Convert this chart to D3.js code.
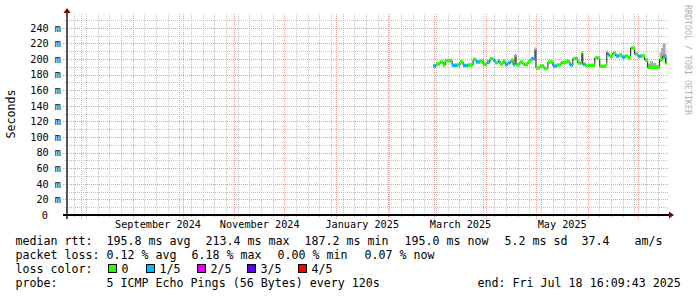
<!DOCTYPE html>
<html>
<head>
<meta charset="utf-8">
<script src="https://cdn.jsdelivr.net/npm/d3@7"></script>
<style>
body { margin: 0; background: #fff; }
svg text { font-family: "DejaVu Sans Mono", monospace; fill: #000; }
</style>
</head>
<body>
<svg id="chart" width="697" height="297"></svg>
<script>
// median rtt, one value per plateau (start of plateau)
var segStart = ["2025-02-28 10","2025-03-02 05","2025-03-04 14","2025-03-06 09","2025-03-07 14","2025-03-11 18","2025-03-14 18","2025-03-16 13","2025-03-18 08","2025-03-21 08",
  "2025-03-24 08","2025-03-26 03","2025-03-28 13","2025-03-30 08","2025-04-01 17","2025-04-03 12","2025-04-05 07","2025-04-06 12","2025-04-08 07","2025-04-09 12",
  "2025-04-11 07","2025-04-12 12","2025-04-14 07","2025-04-16 02","2025-04-17 07","2025-04-18 11","2025-04-19 02","2025-04-21 11","2025-04-23 06","2025-04-26 06",
  "2025-04-28 01","2025-04-30 11","2025-05-01 01","2025-05-03 11","2025-05-05 20","2025-05-08 05","2025-05-11 05","2025-05-13 15","2025-05-16 00","2025-05-19 00",
  "2025-05-21 09","2025-05-23 04","2025-05-26 04","2025-05-28 14","2025-05-29 04","2025-05-30 23","2025-06-01 04","2025-06-05 08","2025-06-08 08","2025-06-11 22",
  "2025-06-12 13","2025-06-13 03","2025-06-14 08","2025-06-16 03","2025-06-17 22","2025-06-19 17","2025-06-21 12","2025-06-23 07","2025-06-25 02","2025-06-26 21",
  "2025-06-29 07","2025-07-01 02","2025-07-02 21","2025-07-05 06","2025-07-07 02","2025-07-14 06","2025-07-16 01","2025-07-17 20"];
var median = [191.0,193.6,196.2,192.3,197.8,191.9,192.3,196.2,191.7,192.3,
  199.4,196.2,197.4,193.2,196.2,200.4,198.7,195.3,197.4,193.6,
  197.4,193.0,195.3,198.7,192.7,205.0,192.7,196.2,193.0,197.0,
  200.4,212.8,188.5,191.0,187.8,196.2,191.0,192.3,195.3,196.8,
  192.3,200.4,194.9,207.7,193.0,191.0,191.9,201.3,190.6,192.3,
  209.0,205.5,203.5,207.7,203.8,205.1,202.6,203.8,201.9,214.1,
  206.4,203.5,203.8,198.7,189.4,199.1,203.5,194.9];
// lost pings out of 5
var loss = [1,0,0,0,0,1,0,0,1,0, 0,1,0,0,1,0,1,0,1,0, 0,1,1,0,1,0,0,0,0,0,
  1,0,0,0,0,0,1,0,0,0, 1,0,0,0,1,0,0,0,0,0, 0,1,0,0,1,0,1,0,0,0, 0,1,0,0,0,0,1,0];

// smoke (ping spread) near the end
var smokeStart = ["2025-07-07 02","2025-07-08 12","2025-07-10 06","2025-07-12 06","2025-07-14 06","2025-07-15 04","2025-07-16 01","2025-07-17 20"];
var smokeLo = [188, 188, 188, 188, 196, 198, 200, 193];
var smokeHi = [194, 197, 195, 192, 208, 214, 220, 206];

var yTicks = [0, 20, 40, 60, 80, 100, 120, 140, 160, 180, 200, 220, 240];
var monthLabels = ["September 2024", "November 2024", "January 2025", "March 2025", "May 2025"];
var monthLabelStart = ["2024-09-01 00", "2024-11-01 00", "2025-01-01 00", "2025-03-01 00", "2025-05-01 00"];

var lossNames = ["0", "1/5", "2/5", "3/5", "4/5"];
var lossColors = ["#26ff00", "#00b8ff", "#dd00ff", "#5e00ff", "#ff0000"];

var parse = d3.timeParse("%Y-%m-%d %H");
var endTime = new Date(2025, 6, 18, 16, 9, 43);
var startTime = new Date(endTime.getTime() - 360 * 864e5);

var svg = d3.select("#chart");

var x = d3.scaleTime().domain([startTime, endTime]).range([67, 667]);
var y = d3.scaleLinear().domain([0, 256.4]).range([215, 15]);

function px(v) { return Math.round(v) + 0.5; }

// grid
var grid = svg.append("g");
var minorY = d3.range(10, 260, 10).filter(function (d) { return d % 20 !== 0; });
var majorY = yTicks.filter(function (d) { return d > 0; });
var weeks = d3.timeSunday.range(startTime, endTime);
var months = d3.timeMonth.range(startTime, endTime);
var monthKeys = months.map(function (d) { return d3.timeDay.floor(d).getTime(); });

grid.selectAll(".minx").data(weeks.filter(function (d) { return monthKeys.indexOf(d.getTime()) < 0; }))
  .enter().append("line")
  .attr("x1", function (d) { return px(x(d)); }).attr("x2", function (d) { return px(x(d)); })
  .attr("y1", 14).attr("y2", 218)
  .attr("stroke", "#c4c4c4").attr("stroke-dasharray", "1,1");

grid.selectAll(".miny").data(minorY).enter().append("line")
  .attr("x1", 65).attr("x2", 668)
  .attr("y1", function (d) { return px(y(d)); }).attr("y2", function (d) { return px(y(d)); })
  .attr("stroke", "#c4c4c4").attr("stroke-dasharray", "1,1");

grid.selectAll(".majx").data(months).enter().append("line")
  .attr("x1", function (d) { return px(x(d)); }).attr("x2", function (d) { return px(x(d)); })
  .attr("y1", 14).attr("y2", 219)
  .attr("stroke", "#e89c9c").attr("stroke-dasharray", "1,1");

grid.selectAll(".majy").data(majorY).enter().append("line")
  .attr("x1", 63).attr("x2", 668)
  .attr("y1", function (d) { return px(y(d)); }).attr("y2", function (d) { return px(y(d)); })
  .attr("stroke", "#e89c9c").attr("stroke-dasharray", "1,1");

// data
var pts = segStart.map(function (s, i) {
  return { t: parse(s), v: median[i], loss: loss[i] };
});
pts.forEach(function (d, i) { d.t2 = i < pts.length - 1 ? pts[i + 1].t : endTime; });

var smoke = smokeStart.map(function (s, i) { return { t: parse(s), lo: smokeLo[i], hi: smokeHi[i] }; });
smoke.push({ t: endTime, lo: smokeLo[smokeLo.length - 1], hi: smokeHi[smokeHi.length - 1] });

svg.append("path").datum(smoke)
  .attr("fill", "#ababab")
  .attr("d", d3.area().curve(d3.curveStepAfter)
    .x(function (d) { return x(d.t); })
    .y0(function (d) { return y(d.lo); })
    .y1(function (d) { return y(d.hi); }));

var linePts = pts.map(function (d) { return [d.t, d.v]; });
linePts.push([endTime, median[median.length - 1]]);
svg.append("path").datum(linePts)
  .attr("fill", "none").attr("stroke", "#202020").attr("stroke-width", 1)
  .attr("d", d3.line().curve(d3.curveStepAfter)
    .x(function (d) { return x(d[0]); })
    .y(function (d) { return y(d[1]); }));

svg.selectAll(".band").data(pts).enter().append("rect")
  .attr("x", function (d) { return Math.round(x(d.t)); })
  .attr("width", function (d) { return Math.max(1, Math.round(x(d.t2)) - Math.round(x(d.t))); })
  .attr("y", function (d) { return y(d.v) - 1.75; })
  .attr("height", 3.5)
  .attr("fill", function (d) { return lossColors[d.loss]; });

// axes
svg.append("line").attr("x1", 67).attr("x2", 67).attr("y1", 12).attr("y2", 219)
  .attr("stroke", "#555").attr("stroke-width", 2);
svg.append("line").attr("x1", 63).attr("x2", 670).attr("y1", 215).attr("y2", 215)
  .attr("stroke", "#000").attr("stroke-width", 2);
svg.append("path").attr("d", "M67,8 L70.5,13 L63.5,13 Z").attr("fill", "#7f0000");
svg.append("path").attr("d", "M674,215 L669,211.5 L669,218.5 Z").attr("fill", "#7f0000");

var yAxis = svg.append("g").attr("transform", "translate(61,0)")
  .call(d3.axisLeft(y).tickValues(yTicks).tickSize(0).tickPadding(0)
    .tickFormat(function (d) { return d === 0 ? "0" : d + " m"; }));
yAxis.select(".domain").remove();
yAxis.selectAll("text").attr("font-family", "DejaVu Sans Mono").attr("font-size", "10.2px").attr("fill", "#000")
  .attr("dy", "0.33em")
  .attr("x", function (d) { return d === 0 ? -13 : 0; });

var labelCenters = monthLabelStart.map(function (s) {
  var a = parse(s);
  return new Date((a.getTime() + d3.timeMonth.offset(a, 1).getTime()) / 2);
});
var xAxis = svg.append("g").attr("transform", "translate(0,220)")
  .call(d3.axisBottom(x).tickValues(labelCenters).tickSize(0).tickPadding(0)
    .tickFormat(function (d, i) { return monthLabels[i]; }));
xAxis.select(".domain").remove();
xAxis.selectAll("text").attr("font-family", "DejaVu Sans Mono").attr("font-size", "10.2px").attr("fill", "#000")
  .attr("dy", "0.78em");

svg.append("text").attr("transform", "translate(15,114) rotate(-90)")
  .attr("text-anchor", "middle").attr("font-size", "11.65px").text("Seconds");

svg.append("text").attr("transform", "translate(685,5) rotate(90)")
  .attr("font-size", "8.3px").style("fill", "#b0b0b0").text("RRDTOOL / TOBI OETIKER");

// legend
var legendRows = [
  [[16, "median rtt:"], [107, "195.8 ms avg"], [206, "213.4 ms max"], [305, "187.2 ms min"], [405, "195.0 ms now"], [505, "5.2 ms sd"], [582, "37.4"], [635, "am/s"]],
  [[16, "packet loss:"], [107, "0.12 % avg"], [192, "6.18 % max"], [278, "0.00 % min"], [365, "0.07 % now"]],
  [[16, "loss color:"]],
  [[16, "probe:"], [107, "5 ICMP Echo Pings (56 Bytes) every 120s"], [478, "end: Fri Jul 18 16:09:43 2025"]]
];
var legendY = [245, 259, 273, 287];
legendRows.forEach(function (row, r) {
  row.forEach(function (item) {
    svg.append("text").attr("x", item[0] - 0.5).attr("y", legendY[r])
      .attr("font-size", "11.65px").text(item[1]);
  });
});

var boxX = [108, 146, 197, 247, 298];
lossNames.forEach(function (name, i) {
  svg.append("rect").attr("x", boxX[i] + 0.5).attr("y", 264.5).attr("width", 8).attr("height", 8)
    .attr("fill", lossColors[i]).attr("stroke", "#000");
  svg.append("text").attr("x", boxX[i] + 13.5).attr("y", 273).attr("font-size", "11.65px").text(name);
});
</script>
</body>
</html>
